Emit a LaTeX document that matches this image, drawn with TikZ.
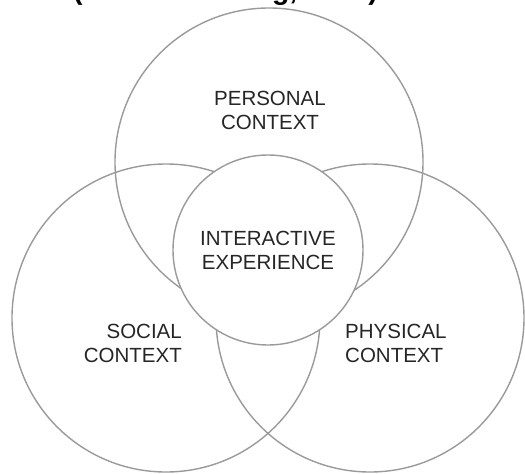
\documentclass[tikz,border=0pt]{standalone}
\usepackage{fontspec}
\setmainfont{Liberation Sans}
\definecolor{ringgray}{HTML}{9A9A9A}
\definecolor{txtgray}{HTML}{262626}
\begin{document}
\begin{tikzpicture}[x=1pt,y=-1pt,
  ring/.style={circle, draw=ringgray, line width=1.4pt, inner sep=0pt, minimum size=#1},
  lbl/.style={text=txtgray, font=\fontsize{20.5}{24}\selectfont, inner sep=0pt}]
\useasboundingbox (0,0) rectangle (525,474);
\fill[white] (0,0) rectangle (525,474);
% partially visible citation at the top edge
\node[anchor=base west, inner sep=0pt, text=black, font=\bfseries\fontsize{28.4}{30}\selectfont] (cite) at (73,-0.5) {(Falk \& Dierking, 1992)};
% context circles
\node[ring=308pt] (personal) at (269,162) {};
\node[ring=308pt] (social) at (166,318) {};
\node[ring=308pt] (physical) at (370,318) {};
% central circle
\node[ring=190pt, fill=white] (interactive) at (268,250) {};
% labels
\node[lbl, align=center] (personalLbl) at (270,110) {PERSONAL\\CONTEXT};
\node[lbl, align=center] (interactiveLbl) at (268,250) {INTERACTIVE\\EXPERIENCE};
\node[lbl, align=right, anchor=east] (socialLbl) at (182,343.5) {SOCIAL\\CONTEXT};
\node[lbl, align=left, anchor=west] (physicalLbl) at (345,343.5) {PHYSICAL\\CONTEXT};
\end{tikzpicture}
\end{document}
